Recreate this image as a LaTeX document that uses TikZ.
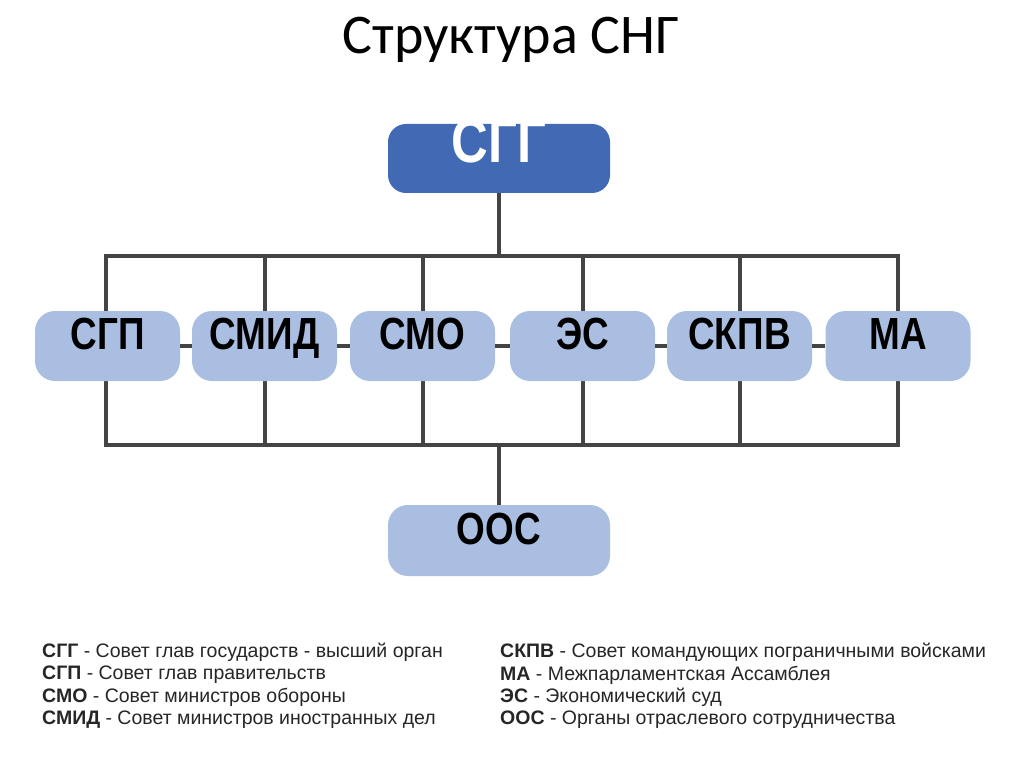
\documentclass[tikz,border=0pt]{standalone}
\usepackage{fontspec}
\setmainfont{Liberation Sans}
\newfontfamily\titlefont{Carlito}
\begin{document}
\begin{tikzpicture}[x=1pt,y=-1pt,
  lightbox/.style={fill=lightblue,rounded corners=20pt,minimum width=145pt,minimum height=70pt,inner sep=0pt,text height=0.72em,text depth=0pt,font=\fontsize{45}{46}\selectfont\bfseries},
  ln/.style={draw=linegray,line width=4pt},
  leg/.style={anchor=west,font=\fontsize{19.5}{21}\selectfont,text=black!85,inner sep=0pt}]
\definecolor{lightblue}{HTML}{A9BEE0}
\definecolor{darkblue}{HTML}{4169B4}
\definecolor{linegray}{HTML}{444444}
\newcommand{\cnd}[1]{\scalebox{0.82}[1]{#1}}
\useasboundingbox (0,0) rectangle (1024,767);
\node[font=\titlefont\fontsize{56}{60}\selectfont] (title) at (511,40) {Структура СНГ};
\node[fill=darkblue,text=white,rounded corners=18pt,minimum width=222pt,minimum height=69pt,inner sep=0pt,text height=0.72em,text depth=0pt,font=\fontsize{62}{64}\selectfont\bfseries] (sgg) at (499,158.5) {\cnd{СГГ}};
\coordinate (t1) at (106,256); \coordinate (t6) at (898,256);
\coordinate (b1) at (106,445); \coordinate (b6) at (898,445);
\coordinate (tc) at (499,256); \coordinate (bc) at (499,445);
\draw[ln] (sgg.south) -- (tc);
\draw[ln,line cap=rect] (t1) -- (t6) (b1) -- (b6);
\foreach \x in {106,265,423,583,740,898}{\draw[ln,line cap=rect] (\x,256) -- (\x,445);}
\draw[ln] (bc) -- (499,505);
\foreach \n/\x/\t in {n1/107.5/СГП,n2/264.5/СМИД,n3/422.5/СМО,n4/582.5/ЭС,n5/739.5/СКПВ,n6/898/МА}
  {\node[lightbox] (\n) at (\x,346) {\cnd{\t}};}
\node[lightbox,minimum width=222pt,minimum height=71pt] (oos) at (499,540.5) {\cnd{ООС}};
\draw[ln] (oos.north) -- (bc);
\foreach \a/\b in {n1/n2,n2/n3,n3/n4,n4/n5,n5/n6}{\draw[ln] (\a.east) -- (\b.west);}
\node[leg] (l1) at (42,652) {\textbf{СГГ} - Совет глав государств - высший орган};
\node[leg] (l2) at (42,675) {\textbf{СГП} - Совет глав правительств};
\node[leg] (l3) at (42,697) {\textbf{СМО} - Совет министров обороны};
\node[leg] (l4) at (42,720) {\textbf{СМИД} - Совет министров иностранных дел};
\node[leg] (r1) at (500,652) {\textbf{СКПВ} - Совет командующих пограничными войсками};
\node[leg] (r2) at (500,675) {\textbf{МА} - Межпарламентская Ассамблея};
\node[leg] (r3) at (500,697) {\textbf{ЭС} - Экономический суд};
\node[leg] (r4) at (500,720) {\textbf{ООС} - Органы отраслевого сотрудничества};
\end{tikzpicture}
\end{document}
